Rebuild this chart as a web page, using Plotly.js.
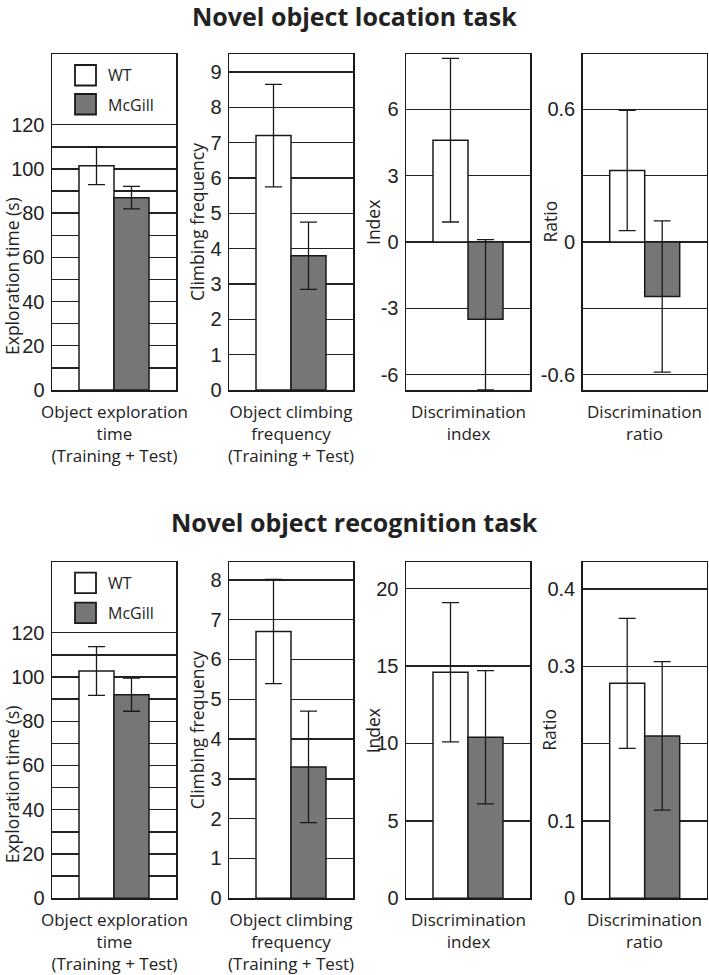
<!DOCTYPE html>
<html><head><meta charset="utf-8">
<script src="https://cdn.plot.ly/plotly-3.0.1.min.js"></script>
<style>html,body{margin:0;padding:0;background:#fff}#chart{width:709px;height:975px}</style>
</head><body><div id="chart"></div>
<script>
// ---------- data ----------
const groups = ['WT', 'McGill'];
const rowTitles = ['Novel object location task', 'Novel object recognition task'];
const yTitles = ['Exploration time (s)', 'Climbing frequency', 'Index', 'Ratio'];
const xLabels = ['Object exploration<br>time<br>(Training + Test)', 'Object climbing<br>frequency<br>(Training + Test)', 'Discrimination<br>index', 'Discrimination<br>ratio'];

// Novel object location task
const locExploreMean = [101.5, 87.0];
const locExploreErrPlus = [8.6, 5.1];
const locExploreErrMinus = [8.6, 5.1];
const locClimbMean = [7.2, 3.8];
const locClimbErrPlus = [1.45, 0.95];
const locClimbErrMinus = [1.45, 0.95];
const locIndexMean = [4.6, -3.5];
const locIndexErrPlus = [3.7, 3.6];
const locIndexErrMinus = [3.7, 3.2];
const locRatioMean = [0.323, -0.247];
const locRatioErrPlus = [0.272, 0.342];
const locRatioErrMinus = [0.272, 0.342];

// Novel object recognition task
const recExploreMean = [102.7, 92.0];
const recExploreErrPlus = [11.0, 7.5];
const recExploreErrMinus = [11.0, 7.5];
const recClimbMean = [6.7, 3.3];
const recClimbErrPlus = [1.31, 1.4];
const recClimbErrMinus = [1.31, 1.4];
const recIndexMean = [14.6, 10.4];
const recIndexErrPlus = [4.5, 4.3];
const recIndexErrMinus = [4.5, 4.3];
const recRatioMean = [0.278, 0.210];
const recRatioErrPlus = [0.084, 0.096];
const recRatioErrMinus = [0.084, 0.096];

// tick values / labels
const exploreTickVals = [0,10,20,30,40,50,60,70,80,90,100,110,120];
const exploreTickText = ['0','','20','','40','','60','','80','','100','','120'];
const locClimbTickVals = [0,1,2,3,4,5,6,7,8,9];
const locClimbTickText = ['0','1','2','3','4','5','6','7','8','9'];
const locIndexTickVals = [-6,-3,0,3,6];
const locIndexTickText = ['-6','-3','0','3','6'];
const locRatioTickVals = [-0.6,-0.3,0,0.3,0.6];
const locRatioTickText = ['-0.6','','0','','0.6'];
const recClimbTickVals = [0,1,2,3,4,5,6,7,8];
const recClimbTickText = ['0','1','2','3','4','5','6','7','8'];
const recIndexTickVals = [0,5,10,15,20];
const recIndexTickText = ['0','5','10','15','20'];
const recRatioTickVals = [0,0.1,0.2,0.3,0.4];
const recRatioTickText = ['0','0.1','','0.3','0.4'];

// ---------- layout helpers ----------
const W = 709, H = 975;
const px = v => v / W;
const py = v => 1 - v / H;
const colLeft = [52, 229, 406, 582.7];
const colWidth = 124;
const rowTop = [54, 562.3];
const rowBottom = [390, 898.3];
const ranges = [[0,152],[0,9.51],[-6.7,8.5],[-0.67,0.85],[0,151.8],[0,8.44],[0,21.7],[0,0.4345]];

const panels = [
  [locExploreMean, locExploreErrPlus, locExploreErrMinus, exploreTickVals, exploreTickText],
  [locClimbMean, locClimbErrPlus, locClimbErrMinus, locClimbTickVals, locClimbTickText],
  [locIndexMean, locIndexErrPlus, locIndexErrMinus, locIndexTickVals, locIndexTickText],
  [locRatioMean, locRatioErrPlus, locRatioErrMinus, locRatioTickVals, locRatioTickText],
  [recExploreMean, recExploreErrPlus, recExploreErrMinus, exploreTickVals, exploreTickText],
  [recClimbMean, recClimbErrPlus, recClimbErrMinus, recClimbTickVals, recClimbTickText],
  [recIndexMean, recIndexErrPlus, recIndexErrMinus, recIndexTickVals, recIndexTickText],
  [recRatioMean, recRatioErrPlus, recRatioErrMinus, recRatioTickVals, recRatioTickText]
];

const barColors = ['#ffffff', '#767676'];
const ink = '#1a1a1a';
const traces = [];
const layout = {
  width: W, height: H,
  margin: {l:0, r:0, t:0, b:0},
  paper_bgcolor: '#fff', plot_bgcolor: '#fff',
  showlegend: false,
  bargap: 0,
  annotations: [], shapes: []
};

panels.forEach((p, i) => {
  const row = Math.floor(i / 4), col = i % 4;
  const n = i + 1;
  const xa = n === 1 ? 'x' : 'x' + n;
  const ya = n === 1 ? 'y' : 'y' + n;
  traces.push({
    type: 'bar', x: groups, y: p[0], width: 1,
    xaxis: xa, yaxis: ya,
    marker: {color: barColors, line: {color: ink, width: 1.5}},
    error_y: {type: 'data', symmetric: false, array: p[1], arrayminus: p[2],
              color: ink, thickness: 1.3, width: 8.5},
    hoverinfo: 'skip', cliponaxis: true
  });
  const half = (colWidth / 35) / 2;
  layout['xaxis' + (n === 1 ? '' : n)] = {
    domain: [px(colLeft[col]), px(colLeft[col] + colWidth)],
    anchor: ya, type: 'category', range: [0.5 - half, 0.5 + half],
    showticklabels: false, ticks: '', showgrid: false, zeroline: false,
    showline: true, linecolor: ink, linewidth: 1.5, mirror: true, fixedrange: true
  };
  layout['yaxis' + (n === 1 ? '' : n)] = {
    domain: [py(rowBottom[row]), py(rowTop[row])],
    anchor: xa, range: ranges[i],
    tickmode: 'array', tickvals: p[3], ticktext: p[4], ticks: '',
    tickfont: {family: 'Liberation Sans, Arial, sans-serif', size: 20, color: '#222'},
    showgrid: true, gridcolor: '#222', gridwidth: 1.4, zeroline: false,
    showline: true, linecolor: ink, linewidth: 1.5, mirror: true, fixedrange: true,
    ticklabelstandoff: 2
  };
  // y-axis title
  const titleX = [12, 197, 373, 549.5][col];
  const titleYOffset = col === 0 ? 54 : 0;
  layout.annotations.push({
    text: yTitles[col], textangle: -90, showarrow: false,
    xref: 'paper', yref: 'paper', x: px(titleX), y: py((rowTop[row] + rowBottom[row]) / 2 + titleYOffset),
    xanchor: 'center', yanchor: 'middle',
    font: {family: 'Open Sans, sans-serif', size: 17.5, color: '#222'}
  });
  // category label under the panel
  layout.annotations.push({
    text: xLabels[col], showarrow: false, align: 'center',
    xref: 'paper', yref: 'paper', x: px(colLeft[col] + colWidth / 2), y: py(rowBottom[row] + 8),
    xanchor: 'center', yanchor: 'top',
    font: {family: 'Open Sans, sans-serif', size: 17, color: '#222'}
  });
});

// row titles
[16, 522].forEach((yy, r) => {
  layout.annotations.push({
    text: '<b>' + rowTitles[r] + '</b>', showarrow: false,
    xref: 'paper', yref: 'paper', x: px(354.5), y: py(yy),
    xanchor: 'center', yanchor: 'middle',
    font: {family: 'Open Sans, sans-serif', size: 25, color: '#222'}
  });
});

// legends inside the first panel of each row
[[65, 94], [572.7, 602.7]].forEach(tops => {
  tops.forEach((t, k) => {
    layout.shapes.push({
      type: 'rect', xref: 'paper', yref: 'paper',
      x0: px(75), x1: px(96), y0: py(t + 20.5), y1: py(t),
      fillcolor: barColors[k], line: {color: ink, width: 1.8}
    });
    layout.annotations.push({
      text: groups[k], showarrow: false, xref: 'paper', yref: 'paper',
      x: px(106), y: py(t + 10.5), xanchor: 'left', yanchor: 'middle',
      font: {family: 'Open Sans, sans-serif', size: 16, color: '#222'}
    });
  });
});

Plotly.newPlot('chart', traces, layout, {staticPlot: true, displayModeBar: false});
</script></body></html>
